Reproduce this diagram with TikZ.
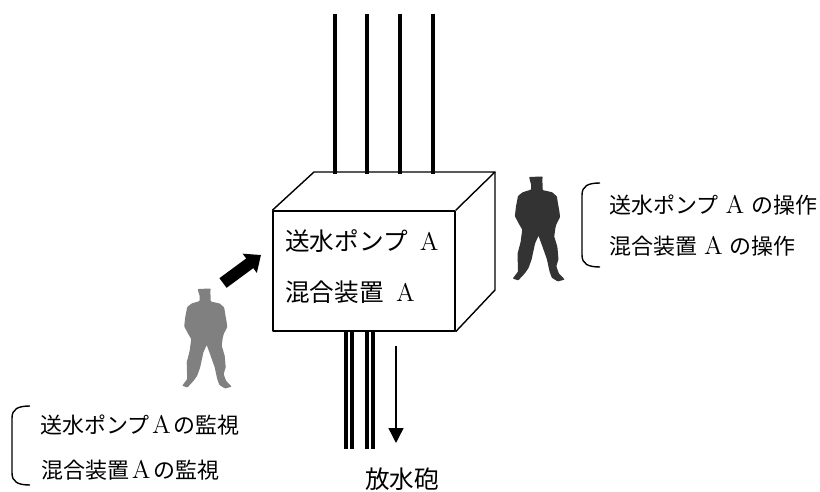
\documentclass[tikz,border=0pt]{standalone}
\usepackage{fontspec}
\usepackage{amsmath}
\newfontfamily\jpfont{Noto Sans CJK JP}
\usetikzlibrary{arrows.meta}

\newcommand{\capA}{{\rmfamily\fontsize{14.5}{14.5}\selectfont A}}

\tikzset{
  label/.style={font=\jpfont\fontsize{12.5}{12.5}\selectfont,anchor=west,inner sep=0pt},
  boxlabel/.style={font=\jpfont\fontsize{14}{14}\selectfont,anchor=west,inner sep=0pt},
  pipe/.style={line width=2.2pt},
  wall/.style={line width=0.8pt,line join=round},
  guard/.pic={
    \fill[rounded corners=0.4pt] (-9,-50) -- (4,-50.5) -- (3.5,-46) -- (4,-43) -- (4,-37.5) -- (13,-35.5)
      -- (17.5,-31.5) -- (18.5,-25) -- (20,-16.7) -- (20.5,-11.7) -- (17,-5) -- (16,-1) -- (15,6.7)
      -- (18,16.7) -- (19,28.3) -- (17,35) -- (19.3,41.7) -- (25,47.7) -- (18.3,49.5)
      -- (12.7,46) -- (10.5,40) -- (8,28.3) -- (3.3,15) -- (0,6) -- (-3.3,13.3) -- (-6.5,28.3)
      -- (-9.5,36.7) -- (-13,41.7) -- (-19.3,48.5) -- (-24.5,46.7) -- (-19.5,40) -- (-20,23.3)
      -- (-17,11.7) -- (-15.5,0) -- (-18.5,-5) -- (-22.5,-12.7) -- (-21.5,-21.7) -- (-19.5,-32)
      -- (-15,-35.5) -- (-7,-38) -- (-7,-43) -- (-8,-46) -- cycle;
  }
}

\begin{document}
\begin{tikzpicture}[x=0.02cm,y=-0.02cm]

      \useasboundingbox (0,0) rectangle (820,492);

      % box
      \node[draw,wall,minimum width=3.64cm,minimum height=2.4cm,inner sep=0pt] (front) at (364,271) {};
      \coordinate (topleft) at (314,172);
      \coordinate (topright) at (495,172);
      \coordinate (lowright) at (495,290);
      \draw[wall] (front.north west) -- (topleft) -- (topright) -- (front.north east);
      \draw[wall] (topright) -- (lowright) -- (front.south east);

      \node[boxlabel] (pump) at (285,241) {送水ポンプ\hspace{7pt}\capA};
      \node[boxlabel] (mixer) at (285,292) {混合装置\hspace{7pt}\capA};

      % pipes
      \foreach \x in {335,367,400,433} {
        \coordinate (in\x) at (\x,14);
        \coordinate (top\x) at (\x,174);
        \draw[pipe] (in\x) -- (top\x);
      }
      \foreach \x in {346,352,367,373} {
        \coordinate (bot\x) at (\x,331);
        \coordinate (out\x) at (\x,449);
        \draw[pipe] (bot\x) -- (out\x);
      }

      % flow
      \coordinate (flowstart) at (396,346);
      \coordinate (flowend) at (396,443);
      \draw[line width=0.8pt,-{Triangle[length=0.3cm,width=0.3cm]}] (flowstart) -- (flowend);
      \node[boxlabel] (nozzle) at (365,479) {放水砲};

      % look
      \coordinate (lookstart) at (223,283);
      \coordinate (lookend) at (261,255);
      \draw[line width=0.24cm,-{Triangle[length=0.28cm,width=0.46cm]}] (lookstart) -- (lookend);

      % people
      \pic[fill=black!50] at (206.7,339) {guard};
      \pic[fill=black!80,scale=1.05] at (538.5,229.5) {guard};

      % right notes
      \draw[wall] (600,183) .. controls (588,183) and (582,186) .. (582,195)
        -- (582,255) .. controls (582,264) and (588,267) .. (600,267);
      \node[label] (pumpop) at (609,205) {送水ポンプ\hspace{4pt}\capA\hspace{4pt}の操作};
      \node[label] (mixerop) at (609,246) {混合装置\hspace{4pt}\capA\hspace{4pt}の操作};

      % left notes
      \draw[wall] (30,406) .. controls (18,406) and (12,409) .. (12,418)
        -- (12,473) .. controls (12,482) and (18,485) .. (30,485);
      \node[label] (pumpwatch) at (40,425) {送水ポンプ\hspace{1.5pt}\capA\hspace{1.5pt}の監視};
      \node[label] (mixerwatch) at (41,470) {混合装置\hspace{1.5pt}\capA\hspace{1.5pt}の監視};

\end{tikzpicture}
\end{document}
